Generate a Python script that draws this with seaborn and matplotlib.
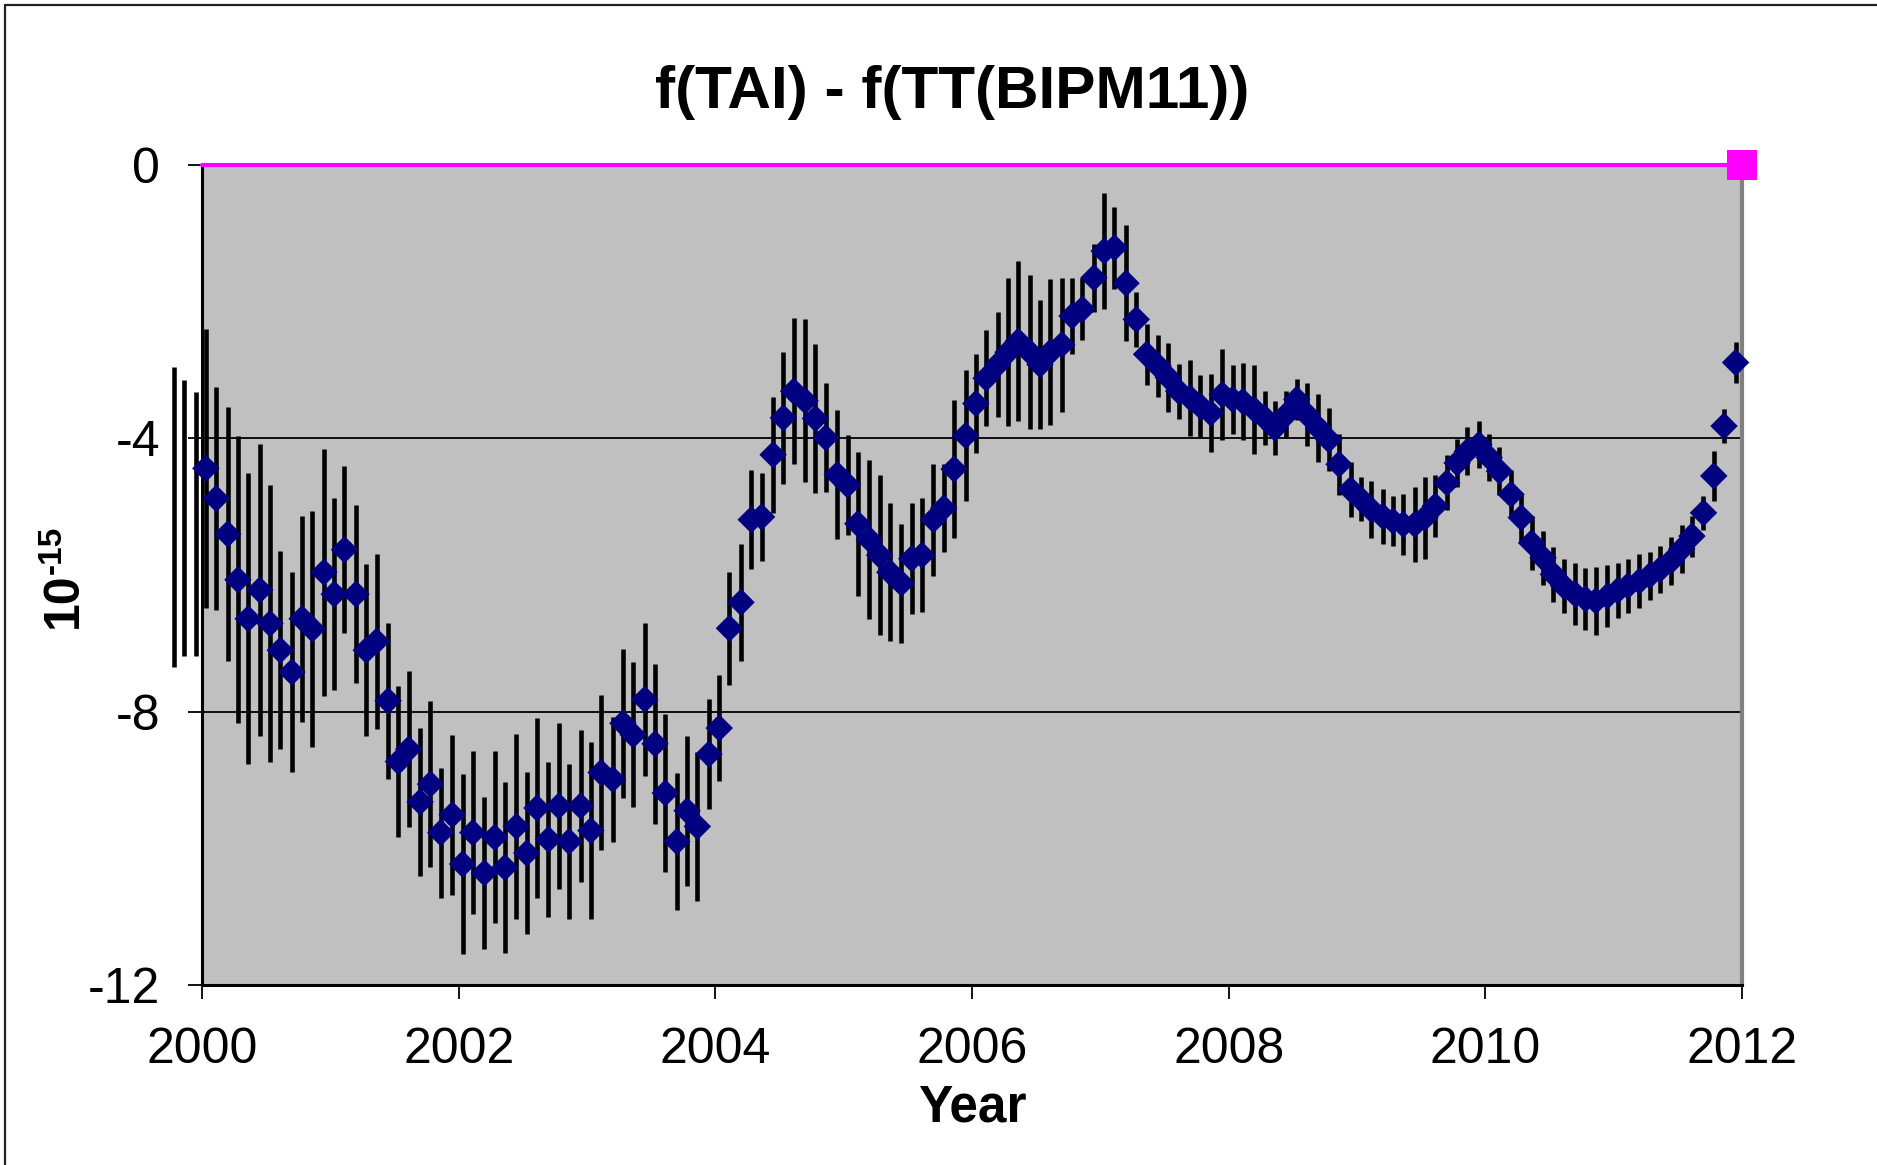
import matplotlib
matplotlib.use("Agg")
import matplotlib.pyplot as plt
from matplotlib.lines import Line2D
import numpy as np
import pandas as pd
import seaborn as sns

# Monthly frequency offset of TAI relative to TT(BIPM11), in units of 1e-15
years = [
    1999.78, 1999.86, 1999.95,
    2000.03, 2000.11, 2000.20, 2000.28, 2000.36, 2000.45, 2000.53, 2000.61, 2000.70, 2000.78, 2000.86, 2000.95,
    2001.03, 2001.11, 2001.20, 2001.28, 2001.36, 2001.45, 2001.53, 2001.61, 2001.70, 2001.78, 2001.86, 2001.95,
    2002.03, 2002.11, 2002.20, 2002.28, 2002.36, 2002.45, 2002.53, 2002.61, 2002.70, 2002.78, 2002.86, 2002.95,
    2003.03, 2003.11, 2003.20, 2003.28, 2003.36, 2003.45, 2003.53, 2003.61, 2003.70, 2003.78, 2003.86, 2003.95,
    2004.03, 2004.11, 2004.20, 2004.28, 2004.36, 2004.45, 2004.53, 2004.61, 2004.70, 2004.78, 2004.86, 2004.95,
    2005.03, 2005.11, 2005.20, 2005.28, 2005.36, 2005.45, 2005.53, 2005.61, 2005.70, 2005.78, 2005.86, 2005.95,
    2006.03, 2006.11, 2006.20, 2006.28, 2006.36, 2006.45, 2006.53, 2006.61, 2006.70, 2006.78, 2006.86, 2006.95,
    2007.03, 2007.11, 2007.20, 2007.28, 2007.36, 2007.45, 2007.53, 2007.61, 2007.70, 2007.78, 2007.86, 2007.95,
    2008.03, 2008.11, 2008.20, 2008.28, 2008.36, 2008.45, 2008.53, 2008.61, 2008.70, 2008.78, 2008.86, 2008.95,
    2009.03, 2009.11, 2009.20, 2009.28, 2009.36, 2009.45, 2009.53, 2009.61, 2009.70, 2009.78, 2009.86, 2009.95,
    2010.03, 2010.11, 2010.20, 2010.28, 2010.36, 2010.45, 2010.53, 2010.61, 2010.70, 2010.78, 2010.86, 2010.95,
    2011.03, 2011.11, 2011.20, 2011.28, 2011.36, 2011.45, 2011.53, 2011.61, 2011.70, 2011.78, 2011.86, 2011.95,
]

offset = [
    -5.15, -5.16, -5.25,
    -4.44, -4.88, -5.40, -6.07, -6.64, -6.22, -6.71, -7.10, -7.42, -6.64, -6.79, -5.96,
    -6.28, -5.63, -6.28, -7.10, -6.97, -7.84, -8.73, -8.55, -9.32, -9.06, -9.77, -9.51,
    -10.23, -9.77, -10.36, -9.84, -10.28, -9.68, -10.07, -9.41, -9.87, -9.38, -9.90, -9.38,
    -9.74, -8.89, -8.99, -8.17, -8.34, -7.82, -8.47, -9.19, -9.90, -9.45, -9.68, -8.62,
    -8.24, -6.78, -6.40, -5.19, -5.15, -4.24, -3.70, -3.31, -3.45, -3.71, -3.99, -4.53,
    -4.68, -5.25, -5.48, -5.71, -5.96, -6.12, -5.76, -5.71, -5.19, -5.02, -4.45, -3.96,
    -3.49, -3.12, -2.92, -2.74, -2.58, -2.74, -2.92, -2.74, -2.63, -2.21, -2.11, -1.65,
    -1.26, -1.21, -1.73, -2.26, -2.77, -2.94, -3.11, -3.31, -3.41, -3.53, -3.63, -3.36,
    -3.43, -3.46, -3.58, -3.70, -3.85, -3.65, -3.43, -3.65, -3.85, -4.02, -4.38, -4.75,
    -4.89, -5.04, -5.14, -5.21, -5.26, -5.26, -5.16, -4.99, -4.65, -4.36, -4.19, -4.09,
    -4.28, -4.48, -4.82, -5.16, -5.53, -5.75, -5.99, -6.16, -6.28, -6.35, -6.38, -6.31,
    -6.23, -6.16, -6.09, -6.01, -5.92, -5.79, -5.62, -5.43, -5.09, -4.55, -3.82, -2.89,
]

uncertainty = [
    2.19, 2.02, 1.93,
    2.04, 1.63, 1.86, 2.10, 2.13, 2.13, 2.02, 1.45, 1.47, 1.51, 1.72, 1.81,
    1.40, 1.22, 1.30, 1.26, 1.28, 1.14, 1.10, 1.14, 1.08, 1.21, 0.95, 1.17,
    1.32, 1.19, 1.11, 1.26, 1.25, 1.35, 1.19, 1.32, 1.14, 1.22, 1.14, 1.11,
    1.30, 1.14, 0.91, 1.09, 1.06, 1.12, 1.17, 1.16, 1.00, 1.10, 1.09, 0.80,
    0.78, 0.83, 0.86, 0.72, 0.64, 0.85, 0.97, 1.07, 1.19, 1.09, 0.80, 0.95,
    0.73, 1.05, 1.17, 1.17, 1.01, 0.87, 0.81, 0.83, 0.82, 0.64, 1.01, 0.96,
    0.73, 0.70, 0.77, 1.08, 1.17, 1.13, 0.95, 1.07, 0.98, 0.55, 0.45, 0.50,
    0.85, 0.60, 0.85, 0.40, 0.45, 0.45, 0.50, 0.40, 0.55, 0.45, 0.57, 0.67,
    0.50, 0.56, 0.65, 0.40, 0.40, 0.35, 0.30, 0.46, 0.50, 0.46, 0.45, 0.40,
    0.32, 0.42, 0.40, 0.36, 0.44, 0.55, 0.60, 0.45, 0.40, 0.35, 0.35, 0.35,
    0.35, 0.35, 0.35, 0.35, 0.40, 0.40, 0.40, 0.40, 0.45, 0.45, 0.50, 0.45,
    0.40, 0.40, 0.40, 0.35, 0.35, 0.35, 0.35, 0.30, 0.25, 0.37, 0.25, 0.30,
]

# zero reference line
ref_years = [2000, 2012]
ref_values = [0, 0]

x_ticks = [2000, 2002, 2004, 2006, 2008, 2010, 2012]
x_tick_labels = ["2000", "2002", "2004", "2006", "2008", "2010", "2012"]
y_ticks = [0, -4, -8, -12]
y_tick_labels = ["0", "-4", "-8", "-12"]

title = "f(TAI) - f(TT(BIPM11))"
unit_base = "10"
unit_exp = "-15"

sns.set_theme(style="white")
plt.rcParams["font.family"] = ["Liberation Sans", "DejaVu Sans"]
plt.rcParams["axes.unicode_minus"] = False

W, H = 1877, 1165
fig = plt.figure(figsize=(W / 100, H / 100), dpi=100)
ax = fig.add_axes([202 / W, 1 - 985 / H, 1540 / W, 820 / H])
ax.set_facecolor("#C0C0C0")

df = pd.DataFrame({"Year": years, "offset": offset, "err": uncertainty})
df["low"] = df["offset"] - df["err"]
df["high"] = df["offset"] + df["err"]

# error bars (not clipped to the plot frame)
ax.vlines(df["Year"], df["low"], df["high"], colors="black", linewidth=3.3,
          clip_on=False, zorder=3)

# monthly points inside the time range
shown = df[df["Year"] >= 2000]
sns.scatterplot(data=shown, x="Year", y="offset", marker="D", s=14 ** 2,
                color="#000080", edgecolor="none", linewidth=0, zorder=4,
                clip_on=False, ax=ax, legend=False)

# reference line with its end marker
sns.lineplot(x=ref_years, y=ref_values, color="#FF00FF", linewidth=3.0,
             marker="s", markersize=21, markevery=[1], markeredgewidth=0,
             clip_on=False, zorder=6, ax=ax, legend=False)

ax.set_xlim(2000, 2012)
ax.set_ylim(-12, 0)
ax.set_xticks(x_ticks)
ax.set_xticklabels(x_tick_labels)
ax.set_yticks(y_ticks)
ax.set_yticklabels(y_tick_labels)
ax.set_xlabel("")
ax.set_ylabel("")

ax.yaxis.grid(True, color="black", linewidth=1.3)
ax.xaxis.grid(False)
ax.set_axisbelow(True)

for side in ["left", "bottom"]:
    ax.spines[side].set_color("black")
    ax.spines[side].set_linewidth(2.2)
ax.spines["right"].set_color("#808080")
ax.spines["right"].set_linewidth(3)
ax.spines["top"].set_visible(False)

ax.tick_params(axis="both", which="major", bottom=True, left=True,
               direction="out", length=10, width=1.3, color="black",
               labelsize=36, labelcolor="black", pad=20)

fig.text(952 / W, 1 - 92 / H, title, ha="center", va="center",
         fontsize=43.5, fontweight="bold", color="black")
fig.text(972 / W, 1 - 1122 / H, "Year", ha="center", va="baseline",
         fontsize=37, fontweight="bold", color="black")

# rotated unit label: "10" with a raised "-15"
fig.text(64 / W, 1 - 600 / H, unit_base, ha="center", va="center",
         rotation=90, fontsize=36, fontweight="bold", color="black")
fig.text(52 / W, 1 - 550 / H, unit_exp, ha="center", va="center",
         rotation=90, fontsize=24, fontweight="bold", color="black")

# outer chart frame (top and left edges)
fig.add_artist(Line2D([5 / W, 5 / W], [0, 1 - 5 / H], transform=fig.transFigure,
                      color="#222222", linewidth=1.6))
fig.add_artist(Line2D([5 / W, 1], [1 - 5 / H, 1 - 5 / H], transform=fig.transFigure,
                      color="#222222", linewidth=1.6))

fig.savefig("out.png", dpi=100, facecolor="white")
